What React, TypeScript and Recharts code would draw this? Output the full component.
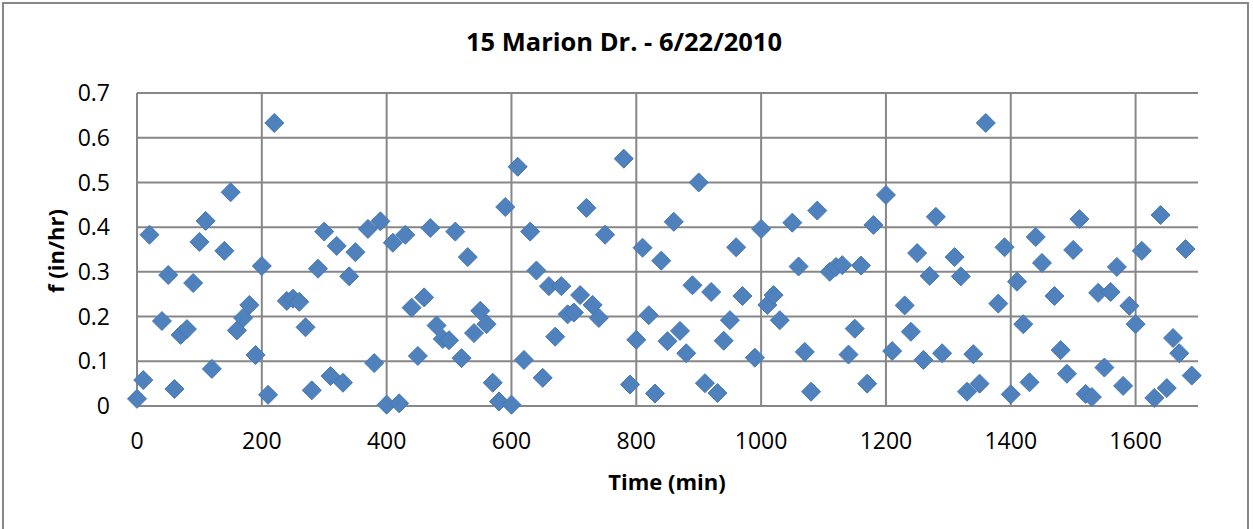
import { CartesianGrid, Scatter, ScatterChart, XAxis, YAxis } from 'recharts'

// Time (min) of each reading
const times = [
  0, 10, 20, 40, 50, 60, 70, 80, 90, 100, 110, 120, 140, 150, 160, 170, 180, 190, 200, 210, 220,
  240, 250, 260, 270, 280, 290, 300, 310, 320, 330, 340, 350, 370, 380, 390, 400, 410, 420, 430,
  440, 450, 460, 470, 480, 490, 500, 510, 520, 530, 540, 550, 560, 570, 580, 590, 600, 610, 620,
  630, 640, 650, 660, 670, 680, 690, 700, 710, 720, 730, 740, 750, 780, 790, 800, 810, 820, 830,
  840, 850, 860, 870, 880, 890, 900, 910, 920, 930, 940, 950, 960, 970, 990, 1000, 1010, 1020,
  1030, 1050, 1060, 1070, 1080, 1090, 1110, 1120, 1130, 1140, 1150, 1160, 1170, 1180, 1200, 1210,
  1230, 1240, 1250, 1260, 1270, 1280, 1290, 1310, 1320, 1330, 1340, 1350, 1360, 1380, 1390, 1400,
  1410, 1420, 1430, 1440, 1450, 1470, 1480, 1490, 1500, 1510, 1520, 1530, 1540, 1550, 1560, 1570,
  1580, 1590, 1600, 1610, 1630, 1640, 1650, 1660, 1670, 1680, 1690,
]

// infiltration rate f (in/hr)
const rates = [
  0.016, 0.058, 0.383, 0.19, 0.293, 0.038, 0.159, 0.172, 0.275, 0.367, 0.414, 0.083, 0.347, 0.478,
  0.169, 0.197, 0.226, 0.114, 0.313, 0.025, 0.633,
  0.235, 0.24, 0.233, 0.176, 0.035, 0.307, 0.39, 0.067, 0.358, 0.052, 0.29, 0.344, 0.396, 0.096,
  0.413, 0.003, 0.365, 0.006, 0.383,
  0.22, 0.112, 0.243, 0.398, 0.18, 0.15, 0.147, 0.39, 0.107, 0.333, 0.163, 0.213, 0.183, 0.052,
  0.01, 0.445, 0.003, 0.535, 0.103,
  0.39, 0.303, 0.063, 0.268, 0.155, 0.268, 0.205, 0.209, 0.248, 0.443, 0.226, 0.197, 0.383, 0.553,
  0.048, 0.148, 0.354, 0.203, 0.028,
  0.325, 0.145, 0.412, 0.168, 0.118, 0.27, 0.5, 0.051, 0.255, 0.029, 0.146, 0.192, 0.355, 0.246,
  0.108, 0.396, 0.226, 0.248,
  0.192, 0.41, 0.312, 0.121, 0.032, 0.437, 0.3, 0.311, 0.315, 0.115, 0.173, 0.314, 0.05, 0.405,
  0.472, 0.123,
  0.225, 0.166, 0.342, 0.103, 0.291, 0.423, 0.118, 0.333, 0.29, 0.032, 0.116, 0.05, 0.633, 0.229,
  0.355, 0.026,
  0.278, 0.183, 0.053, 0.378, 0.32, 0.246, 0.125, 0.072, 0.349, 0.418, 0.027, 0.02, 0.253, 0.086,
  0.255, 0.311,
  0.045, 0.224, 0.183, 0.347, 0.018, 0.427, 0.04, 0.152, 0.118, 0.351, 0.068,
]

const xTicks = [0, 200, 400, 600, 800, 1000, 1200, 1400, 1600]
const yTicks = [0, 0.1, 0.2, 0.3, 0.4, 0.5, 0.6, 0.7]

const data = times.map((t, i) => ({ time: t, f: rates[i] }))

const FONT = '"Open Sans", "Liberation Sans", sans-serif'
const GRID = '#878787'

// Excel style diamond marker (square turned 45 degrees)
function Diamond(props: any) {
  const { cx, cy } = props
  const r = 9.5
  return (
    <polygon
      points={`${cx},${cy - r} ${cx + r},${cy} ${cx},${cy + r} ${cx - r},${cy}`}
      fill="#4F81BD"
      stroke="#4677B5"
      strokeWidth={1}
    />
  )
}

export default function App() {
  return (
    <div style={{ position: 'relative', width: 1253, height: 529, overflow: 'hidden', background: '#fff' }}>
      <style>{`body { margin: 0; }`}</style>
      {/* outer chart frame */}
      <div
        style={{
          position: 'absolute',
          left: 2,
          top: 2,
          width: 1247,
          height: 600,
          border: `2px solid ${GRID}`,
          boxSizing: 'border-box',
        }}
      />
      <ScatterChart
        width={1253}
        height={529}
        margin={{ top: 93, right: 55, bottom: 0, left: 0 }}
        style={{ position: 'absolute', left: 0, top: 0 }}
      >
        <CartesianGrid stroke={GRID} strokeWidth={2} verticalValues={xTicks} horizontalValues={yTicks} />
        <XAxis
          type="number"
          dataKey="time"
          domain={[0, 1700]}
          ticks={xTicks}
          interval={0}
          height={123}
          tickSize={0}
          tickMargin={27}
          axisLine={{ stroke: GRID, strokeWidth: 2 }}
          tick={{ fill: '#000', fontSize: 23, fontFamily: FONT }}
        />
        <YAxis
          type="number"
          dataKey="f"
          domain={[0, 0.7]}
          ticks={yTicks}
          interval={0}
          width={137}
          tickSize={0}
          tickMargin={27}
          axisLine={{ stroke: GRID, strokeWidth: 2 }}
          tick={{ fill: '#000', fontSize: 23, fontFamily: FONT }}
        />
        <Scatter data={data} shape={<Diamond />} isAnimationActive={false} />
      </ScatterChart>
      <svg
        width={1253}
        height={529}
        style={{ position: 'absolute', left: 0, top: 0, pointerEvents: 'none' }}
      >
        <text x={624} y={51} textAnchor="middle" fontFamily={FONT} fontWeight="bold" fontSize={25.5} fill="#000">
          15 Marion Dr. - 6/22/2010
        </text>
        <text x={667} y={490} textAnchor="middle" fontFamily={FONT} fontWeight="bold" fontSize={22} fill="#000">
          Time (min)
        </text>
        <text
          x={0}
          y={0}
          transform="translate(64, 251) rotate(-90)"
          textAnchor="middle"
          fontFamily={FONT}
          fontWeight="bold"
          fontSize={22}
          fill="#000"
        >
          f (in/hr)
        </text>
      </svg>
    </div>
  )
}
